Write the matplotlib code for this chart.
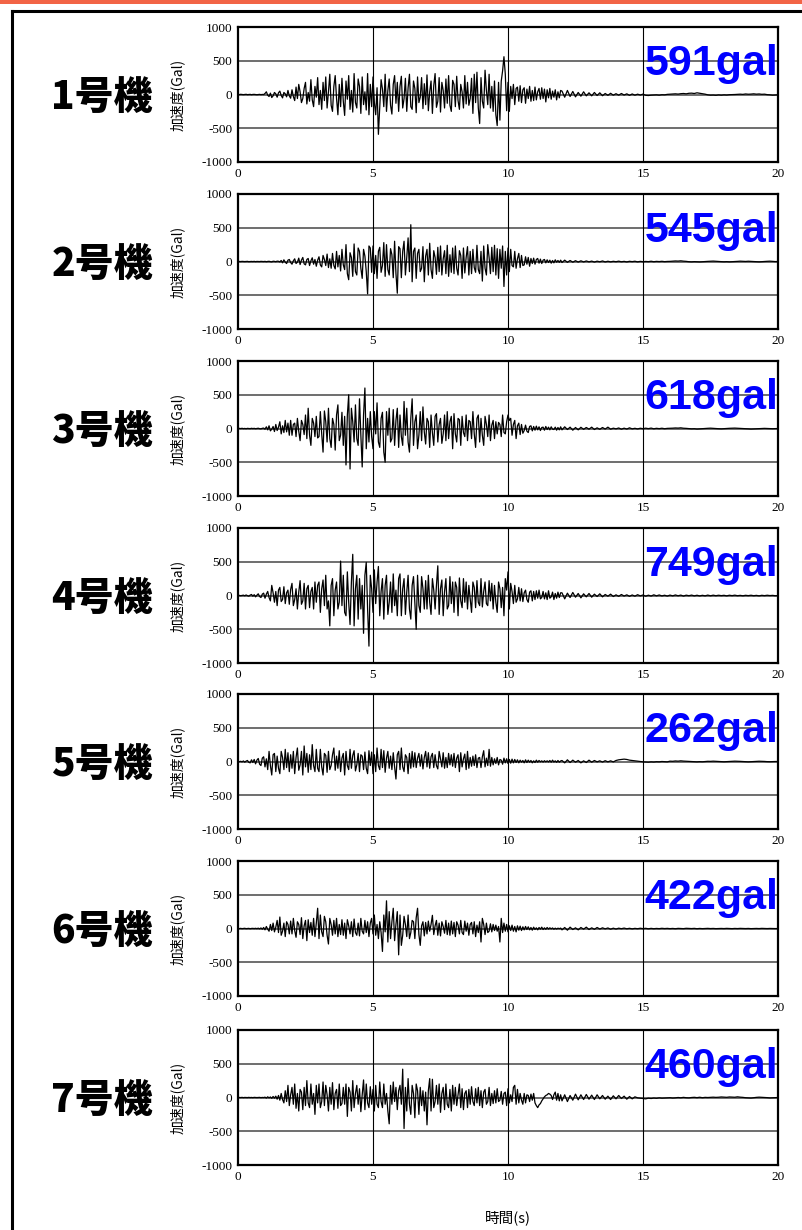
import numpy as np
import matplotlib
matplotlib.use("Agg")
import matplotlib.pyplot as plt
from matplotlib.lines import Line2D
from matplotlib.patches import Rectangle

plt.rcParams['font.family'] = ['Noto Sans CJK JP', 'DejaVu Sans']
plt.rcParams['axes.unicode_minus'] = False

# unit names and peak accelerations (gal)
units = ['1号機', '2号機', '3号機', '4号機', '5号機', '6号機', '7号機']
peaks = ['591gal', '545gal', '618gal', '749gal', '262gal', '422gal', '460gal']

# acceleration:
# *_main = 0 .. 12 s in 0.05 s steps, *_tail = 12 .. 20 s in 0.1 s steps
acc1_main = [2, -1, 3, 0, -2, 1, 3, -2, 0, 2, -3, 1, 2, -1, -3, 0, 2, -2, 1, -1,
             15, 40, -10, -30, 20, -45, -20, 30, 10, -40, 25, 50, -15, -50, 30, 10, -35, 60, -20, -55,
             70, -30, -90, 110, -60, 150, 40, -120, -60, 90, 180, -140, 30, -100, 220, -80, -180, 120, -40, 250,
             -150, 60, -220, 180, -90, 260, -200, 40, 300, -160, -250, 120, 280, -60, -300, 150, -180, 240, -100, -310,
             200, -70, 280, -220, 60, -260, 310, -120, -200, 230, 120, -280, 260, -150, 40, -230, 310, -300, 150, -180,
             260, -120, -300, 100, -590, -200, 220, 80, -180, 300, -250, 60, 230, -160, -290, 150, 280, -130, 180, -250,
             120, 270, -200, -60, 240, -250, 100, 300, -180, -220, 200, 90, -270, 260, -120, -40, 250, -210, 160, -150,
             290, -240, 40, 200, -280, 130, 310, -190, -100, 250, -260, 180, 60, -200, 230, -130, 280, -160, -250, 210,
             150, -180, 270, -90, -220, 150, 40, -200, 280, -140, 180, -160, -60, 240, -280, 300, -120, 330, -200, -430,
             250, -100, -200, 360, 60, -150, 300, -200, 120, -250, 200, -300, -460, 180, -380, 200, 350, 560, 300, -240,
             180, -250, 120, -60, 150, -150, 90, 110, -100, 130, -120, 70, 100, -130, 80, -60, 120, -100, 60, -90,
             110, -80, 40, 90, -70, 100, -60, 80, -110, 70, -50, 90, -70, 50, -40, 70, -80, 40, -50, 60]
acc1_tail = [50, -40, 60, -30, 45, -35, 30, -25, 40, -20, 25, -20, 30, -15, 25, -18, 15, -12, 18, -10,
             12, -10, 15, -8, 10, -12, 8, -10, 5, -8, 6, -12, -15, -10, -8, -5, -10, -3, -5, 2,
             5, 8, 10, 6, 12, 15, 10, 18, 20, 15, 25, 18, 10, 5, -5, -10, -8, -12, -6, -10,
             -5, -8, -3, -2, 0, 3, 5, 2, 8, 4, 6, 10, 5, 8, 3, 5, -2, -5, -10, -8, -5]

acc2_main = [0, 1, -1, 2, 0, -1, 1, 2, -2, 0, 1, -1, 2, -2, 1, 0, -1, 2, 1, -1,
             2, -3, 1, 3, -2, -5, 4, 2, -3, 5, 3, -6, 15, -20, 25, -10, -30, 20, 30, -15,
             -40, 10, 40, -30, -10, 50, -45, 20, 60, -35, -50, 30, 45, -60, 10, 55, -40, 30, -70, 20,
             70, -50, -80, 90, 30, -60, 110, -90, 40, -100, 120, -60, -110, 150, -80, 90, -140, 180, -50, -120,
             250, -180, -270, 130, 60, -220, 260, -150, -200, 200, 150, -100, -250, 180, 80, -150, -480, 230, 200, -160,
             230, -180, 90, -250, 150, 210, -160, -60, 280, -220, 250, -120, -200, 190, 100, -240, 300, -180, -470, 220,
             190, -240, 150, 300, -200, 60, 350, -150, 545, -300, 150, 200, -250, 120, 180, -150, -100, 220, -300, 80,
             180, -200, 270, -120, -250, 160, 60, -190, 210, -150, 230, -200, 40, 160, -180, 240, -220, 100, -160, 200,
             -180, 230, -100, -200, 160, 90, -250, 200, -170, 60, 220, -200, 150, -180, 180, -90, -160, 240, -120, -180,
             150, -290, 230, -100, -200, 250, 60, -180, 210, -150, 240, -200, 190, -250, 180, -100, 230, -370, 150, -200,
             200, -150, 180, -60, -80, 150, -100, 40, 120, -90, 90, -60, -50, 70, -40, 60, -70, 45, -30, 50,
             -40, 30, 45, -25, 35, -30, 20, 30, -20, 25, -15, 20, -25, 15, -20, 25, -10, 15, -12, 20]
acc2_tail = [-15, 20, -12, 15, -10, 12, -8, 10, -6, 8, -5, 6, -8, 5, -4, 8, -6, 4, -5, 3,
             -3, 5, -4, 2, -6, 3, -2, 4, -5, 2, -3, 1, -2, 4, -3, 2, -1, 3, -2, 1,
             2, 5, 8, 6, 10, 5, 2, -3, -5, -2, -4, -6, -3, -1, 2, 4, 6, 3, 1, -2,
             -4, -2, -5, -3, 0, 2, 5, 3, 1, 4, 2, -1, -3, -5, -2, 0, 3, 5, 2, -1, 0]

acc3_main = [0, 2, -1, 3, -2, 1, -3, 2, 0, -2, 3, -1, 2, -3, 1, 4, -2, -5, 3, 6,
             -10, 25, -20, 40, -35, -10, 30, -45, 60, -30, 20, 100, -80, 40, -60, 120, -50, 80, -100, 120,
             -100, 60, 80, -120, 150, -40, -180, 120, 60, -90, 200, -150, 300, -100, -250, 150, 80, -120, 180, -140,
             -120, 250, -80, -350, 260, 100, -200, 300, -150, -280, 150, 60, -320, 200, 350, -180, -100, 240, -250, 180,
             -540, 200, 500, -600, 300, 100, -200, 350, -150, -250, 440, -100, -570, 200, 600, -300, 150, -200, 250, -120,
             -300, 250, -80, 380, -200, -280, 150, 240, -350, -500, 250, -100, 300, -200, -150, 280, -250, 120, 300, -280,
             200, -120, -250, 400, -100, 300, -200, -350, 150, 440, -250, 100, 200, -300, -100, 250, -180, 320, -50, -230,
             150, 100, -280, 200, -60, -250, 180, 220, -200, 60, 150, -220, -80, 200, -180, 250, -150, 100, 180, -300,
             220, -80, -200, 150, 130, -250, 180, -60, -120, 200, -180, 120, 100, -150, 250, -80, -280, 150, 200, -200,
             150, -100, -250, 180, 60, -120, 200, -180, 50, 120, -150, 100, -80, 90, 60, -120, 200, -60, -80, 100,
             200, 120, 150, -100, 60, 120, -150, 40, 80, -90, 60, -70, -30, 50, -40, -60, 30, 40, -35, 30,
             -25, 35, -20, 25, -30, 15, 20, -25, 30, -15, 20, -20, 25, -10, -15, 20, -25, 15, -20, 25]
acc3_tail = [-20, 25, -15, 20, -25, 15, -20, 18, -12, 15, -10, 20, -15, 10, -12, 15, -8, 20, -10, 5,
             -5, 8, -10, 5, -8, 10, -5, 3, -6, 4, -3, 5, -2, 6, -4, 3, -2, 4, -3, 2,
             3, 5, 8, 6, 10, 4, 2, -2, -5, -3, -8, -5, -2, 0, 3, 5, 2, 0, -3, -5,
             -2, 0, 3, 5, 6, 4, 2, 0, -2, -5, -8, -6, -4, -2, 0, 2, 0, -2, -3, -1, 0]

acc4_main = [0, 2, -3, 1, 5, -4, 8, -2, -10, 6, 15, -10, 12, -20, 5, 25, -15, -30, 20, 35,
             -40, 20, 60, -30, -80, 150, 40, -100, 60, -150, 80, 120, -90, -60, 130, -120, 40, 80, -130, 90,
             180, -150, -60, 100, -200, 50, 220, -130, -80, 180, -200, 100, 150, -180, 60, 120, -200, 200, -100, 150,
             200, -250, 100, 230, -150, 300, -200, -80, -450, 150, 250, -300, 80, 200, -200, -100, 510, -150, 300, -250,
             -300, 350, -100, -430, 200, 610, -450, 100, 300, -350, 250, -200, 150, -560, 300, 490, -200, -750, 300, 100,
             -250, 380, -120, 200, 430, -300, 60, 250, -350, 150, 300, -280, -100, 200, -250, 320, -150, 80, -300, 250,
             320, -300, 100, 250, -280, 50, 300, -200, -350, 150, 280, -100, -500, 300, -150, -250, 280, 100, -200, 220,
             -200, 300, -100, -280, 250, 80, -200, 150, 440, -280, 100, 230, -300, 60, 250, -200, -150, 280, -120, 200,
             -250, 200, 120, -300, 260, -80, -180, 250, -100, 200, -200, 150, -50, -250, 200, 120, -180, 220, -100, -150,
             250, -170, 60, 200, -120, -150, 220, -80, 180, -200, 150, -100, -250, 200, 100, -180, 120, -300, 250, 80,
             350, -200, 180, 60, -120, 150, -100, -50, 120, -80, 100, -90, 40, 80, -60, -100, 50, 70, -80, 60,
             -60, 70, -40, 80, -50, -30, 60, -50, 40, -60, 70, -40, -20, 50, -60, 30, -40, 50, -30, 40]
acc4_tail = [40, -50, 35, -30, 45, -25, 30, -35, 25, -20, 30, -25, 20, -15, 25, -20, 15, -10, 20, -15,
             10, -12, 15, -8, 10, -12, 8, -10, 12, -6, 8, -10, 5, -8, 10, -5, 8, -6, 4, -8,
             6, -5, 8, -4, 6, -8, 5, -3, 6, -5, 4, -6, 3, -5, 6, -4, 5, -3, 4, -2,
             3, -5, 4, -2, 5, -3, 2, -4, 3, -2, 4, -3, 2, -5, 3, -2, 4, -1, 2, -3, 0]

acc5_main = [0, -2, 3, -5, 8, -10, 6, 15, -12, -20, 25, -15, 30, -35, 20, 45, -40, -60, 50, 70,
             -80, 40, -120, 150, -60, -200, 100, 120, -150, 80, -100, -180, 150, 60, -120, 180, -90, 130, -150, 100,
             -100, 150, -180, 60, 200, -130, -50, 150, -200, 230, -80, 120, -160, 100, -120, 250, -60, -150, 180, -100,
             -150, 180, -80, -200, 120, 90, -160, 150, -120, -60, 100, 200, -130, 80, -100, 160, -150, 50, 120, -200,
             150, -60, -120, 180, -100, 90, 160, -140, -50, 120, -150, 100, 80, -120, 140, -100, -180, 160, -60, 140,
             -180, 100, -150, 200, -60, -120, 180, -90, 160, -160, 50, 150, -100, 80, -120, 130, -80, -260, 100, 150,
             -120, 200, -80, -150, 100, 60, -180, 120, -100, 150, -80, 130, -90, 50, 120, -70, 100, -110, 60, 150,
             -80, 130, -100, 70, 120, -90, 100, -60, -110, 150, 40, -80, 130, -100, 60, -90, 120, -50, 100, -70,
             120, -90, 50, 100, -150, 130, -80, 40, 110, -120, 150, -100, 60, -70, 80, -60, 100, -90, 50, 60,
             -90, 70, 160, -80, 50, -60, 180, -70, 60, -50, 40, -30, 60, -50, 30, 20, -40, 50, -20, 40,
             -30, 30, -25, 35, -20, 30, -15, 25, -20, 20, -10, 15, -20, 25, -15, 20, -10, 15, -20, 10,
             -15, 20, -10, 15, -5, 10, -8, 12, -5, 10, -6, 15, -10, 20, -8, 10, -12, 15, -10, 8]
acc5_tail = [15, -20, 25, -15, 20, -10, 15, -20, 10, -15, 20, -10, 15, -5, 10, -8, 12, -5, 10, -6,
             15, 25, 30, 35, 30, 20, 15, 10, 5, 0, -5, -8, -10, -5, -8, -3, -5, 0, -2, -5,
             5, 3, 8, 5, 10, 6, 4, 2, 0, -3, -5, -2, -4, 0, 3, 2, 5, 3, 0, -2,
             -4, -2, 0, 3, 5, 4, 2, 0, -3, -5, -3, 0, 2, 4, 3, 1, -2, -3, -1, 0, 0]

acc6_main = [0, -1, 2, -2, 1, 3, -2, 0, 2, -3, 1, 2, -1, 3, -2, 5, -5, 8, -10, 15,
             -20, 30, -10, -40, 60, -30, 80, -50, 20, 120, -60, 170, -100, -40, 80, -120, 100, 60, -80, 110,
             -80, 150, -30, -130, 100, 60, -90, 160, -150, 40, 120, -180, 130, -60, 90, -100, 150, -120, 80, 300,
             -150, 200, -50, -120, 180, 100, -100, -230, 150, 60, -100, 120, -80, 150, -120, 60, -90, 130, -100, 80,
             -150, 130, 40, -80, 100, -120, 140, -60, -100, 80, -110, 150, -40, -80, 120, -60, 100, -120, 80, 150,
             -80, 200, -100, 60, -150, 100, -60, -340, 200, -50, 410, -200, 250, -150, 100, 300, -180, 60, 250, -390,
             200, -250, -100, 180, 60, -120, 200, -150, -60, 120, 100, -150, 160, 300, -90, -250, 40, 100, -110, 90,
             -80, 110, -40, 60, 195, -90, 40, 120, -100, 80, -110, 100, 30, -70, 120, -90, 80, -100, 110, -80,
             90, -120, 100, 50, -80, 120, -60, -90, 110, -40, 80, -100, 60, 90, -80, 100, -120, 50, -60, 100,
             -200, 150, 60, -90, 80, -60, -40, 70, -50, 60, -30, 50, -40, 30, -200, 150, -60, 80, -40, 60,
             -50, 40, -30, 50, -40, 30, -50, 40, -25, 35, -30, 25, -20, 30, -15, 25, -20, 15, -25, 20,
             -15, 10, -20, 15, -10, 20, -15, 10, -12, 15, -8, 10, -5, 8, -10, 5, -8, 5, -3, 6]
acc6_tail = [-20, 15, -25, 20, -15, 10, -20, 15, -10, 20, -15, 10, -12, 15, -8, 10, -5, 8, -10, 5,
             -8, 5, -3, 6, -4, 3, -5, 2, -3, 4, -2, 3, -4, 2, -3, 1, -2, 3, -1, 2,
             -2, 1, -3, 2, 0, -2, 3, 1, -1, 2, -3, 1, -2, 0, 2, -1, 1, -2, 0, 1,
             -1, 2, 0, -2, 1, -1, 2, 0, -1, 1, -2, 0, 1, -1, 2, 0, -1, 1, 0, -1, 0]

acc7_main = [0, 1, -1, 2, -2, 1, 0, -1, 2, -1, 1, -2, 2, 0, -1, 1, 2, -2, 1, -1,
             5, -8, 10, -5, 8, -12, 15, -10, 20, -25, 30, -40, 60, -30, -80, 100, -60, 180, -120, 40,
             150, -100, 200, -160, 60, -200, 120, 80, -180, 150, -120, 250, -80, -150, 200, -100, 60, -250, 180, -80,
             200, -150, -60, 230, -120, 180, 40, -200, 150, -100, 220, -180, 60, 120, -160, 200, -120, -90, 150, -100,
             200, -280, 150, 80, -200, 250, -150, 60, 180, -100, 130, -210, 40, 260, -180, 200, -80, -150, 160, -100,
             120, -200, 180, -100, -150, 230, -60, -150, 200, -100, 60, -200, -390, 180, -100, 230, -60, 150, -180, 100,
             180, -100, 420, -460, 150, -200, 280, -100, -250, 180, 60, -300, 200, 100, -250, 150, -120, 100, -200, 80,
             -405, 100, 280, -200, 270, -150, -60, 180, -100, 200, -220, 60, 150, -180, 200, -100, -150, 120, -200, 180,
             -100, 150, -120, 40, 200, -150, 130, -180, 60, 100, -150, 120, -100, 160, -60, -120, 130, -80, 150, -120,
             100, -150, 80, 120, -100, -60, 150, -120, 60, -90, 100, -80, 130, -60, -40, 90, -100, 60, 80, -120,
             130, -80, 40, -60, 150, 180, -100, 120, -80, 60, -40, -100, 60, -80, 40, 30, -60, 50, -40, 60,
             -80, -120, -150, -110, -90, -50, -20, 10, 30, 40, 60, 50, 30, -30, 40, 80, -40, 60, -50, 40]
acc7_tail = [-50, 40, -60, 30, -40, 50, -35, 40, -30, 45, -25, 35, -30, 40, -20, 30, -25, 20, -30, 25,
             -20, 30, -15, 20, -25, 15, -20, 10, -5, -10, -15, -20, -10, -15, -8, -12, -5, -10, -8, -5,
             -3, -8, -5, 0, -4, 2, -3, -5, 0, 3, -2, 4, -3, 2, 0, 3, 5, 2, 4, 8,
             5, 3, 8, 6, 4, 10, 5, 2, -3, -5, -8, -3, 2, 5, 3, 0, -2, -6, -4, -2, 0]

records = [(acc1_main, acc1_tail), (acc2_main, acc2_tail), (acc3_main, acc3_tail),
           (acc4_main, acc4_tail), (acc5_main, acc5_tail), (acc6_main, acc6_tail),
           (acc7_main, acc7_tail)]
yticks = [-1000, -500, 0, 500, 1000]
xticks = [0, 5, 10, 15, 20]

W, H = 802, 1230
fig = plt.figure(figsize=(W / 100, H / 100), dpi=100)

# orange band at the very top and the black frame
fig.add_artist(Rectangle((0, 1 - 4 / H), 1, 4 / H, transform=fig.transFigure,
                         facecolor='#f26446', edgecolor='none'))
fig.add_artist(Line2D([12 / W, 12 / W], [0, 1 - 11 / H], transform=fig.transFigure,
                      color='black', lw=2.2))
fig.add_artist(Line2D([12 / W, 1], [1 - 11 / H, 1 - 11 / H], transform=fig.transFigure,
                      color='black', lw=2.2))

tops = [27, 194, 361, 528, 694, 861, 1030]
left, right, h = 238, 778, 135

for i, (name, pk, (main, tail)) in enumerate(zip(units, peaks, records)):
    top = tops[i]
    ax = fig.add_axes([left / W, 1 - (top + h) / H, (right - left) / W, h / H])
    t = np.concatenate([np.linspace(0, 12, len(main), endpoint=False),
                        np.linspace(12, 20, len(tail))])
    ax.plot(t, main + tail, color='black', lw=0.9, zorder=3)
    ax.set_xlim(0, 20)
    ax.set_ylim(-1000, 1000)
    ax.set_xticks(xticks)
    ax.set_yticks(yticks)
    for v in [-500, 0, 500]:
        ax.axhline(v, color='#555555', lw=1.2, zorder=1)
    for v in [5, 10, 15]:
        ax.axvline(v, color='black', lw=0.8, zorder=1)
    ax.tick_params(length=0, labelsize=9.5, pad=4)
    for lab in ax.get_xticklabels() + ax.get_yticklabels():
        lab.set_fontfamily('Liberation Serif')
    for s in ax.spines.values():
        s.set_linewidth(1.6)
    ax.set_ylabel('加速度(Gal)', fontsize=10, labelpad=12)
    ax.text(20, 290, pk, ha='right', va='baseline', color='#0000ff',
            fontsize=31, fontweight='bold', family='Liberation Sans', zorder=5)
    fig.text(102 / W, 1 - (top + h / 2 + 3) / H, name, ha='center', va='center',
             fontsize=28, fontweight='black')

fig.text(508 / W, 1 - 1218 / H, '時間(s)', ha='center', va='center', fontsize=10.5)

fig.savefig('out.png', dpi=100)
